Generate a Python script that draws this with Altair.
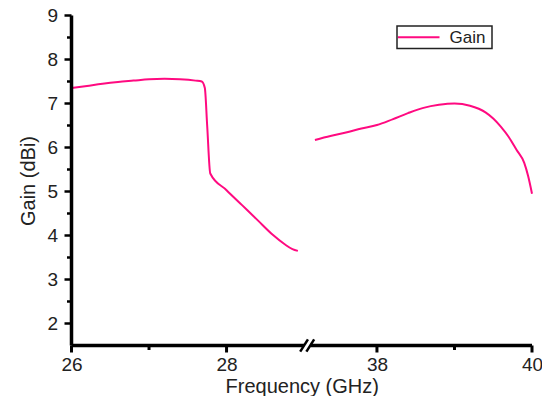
import altair as alt
import pandas as pd

# ---- data ----
SERIES = "Gain"
left_freq = [26.0, 26.2, 26.4, 26.6, 26.8, 27.0, 27.2, 27.4, 27.6, 27.68, 27.72, 27.75, 27.79,
             28.0, 28.2, 28.4, 28.6, 28.75, 28.85, 28.92]
left_gain = [7.35, 7.40, 7.45, 7.49, 7.52, 7.55, 7.56, 7.55, 7.52, 7.50, 7.35, 6.50, 5.41,
             5.03, 4.69, 4.35, 4.01, 3.80, 3.69, 3.65]
right_freq = [37.2, 37.4, 37.6, 37.8, 38.0, 38.2, 38.4, 38.6, 38.8, 39.0, 39.2, 39.4, 39.5,
              39.6, 39.7, 39.8, 39.9, 39.95, 40.0]
right_gain = [6.17, 6.26, 6.34, 6.43, 6.51, 6.64, 6.78, 6.90, 6.97, 7.00, 6.95, 6.80, 6.66,
              6.47, 6.24, 5.95, 5.65, 5.35, 4.95]

x_major = [26, 28, 38, 40]
x_minor = [27, 39]
y_major = [2, 3, 4, 5, 6, 7, 8, 9]
y_minor = [2.5, 3.5, 4.5, 5.5, 6.5, 7.5, 8.5]

# ---- broken axis mapping ----
SHIFT = 8.06          # right part (37.1-40 GHz) is shifted left onto the axis
X_MIN, X_MAX = 26.0, 40.0 - SHIFT
Y_MIN, Y_MAX = 1.5, 9.0
BREAK_L, BREAK_R = 29.0, 29.08
W, H = 460.5, 330

def xp(f):
    return f if f < 33 else round(f - SHIFT, 4)

PINK = "#FF0A80"
FONT = "Liberation Sans"
INK = "#000000"

df = pd.DataFrame({
    "freq": left_freq + right_freq,
    "gain": left_gain + right_gain,
    "seg": ["a"] * len(left_freq) + ["b"] * len(right_freq),
})
df["xp"] = [xp(f) for f in df["freq"]]

tick_xp = [xp(f) for f in x_major]
label_expr = " : ".join(
    f"abs(datum.value - {v}) < 0.01 ? '{f}'" for v, f in zip(tick_xp, x_major)
) + " : ''"

xscale = alt.Scale(domain=[X_MIN, X_MAX], nice=False, zero=False)
yscale = alt.Scale(domain=[Y_MIN, Y_MAX], nice=False, zero=False)

xaxis = alt.Axis(title="Frequency (GHz)", values=tick_xp, labelExpr=label_expr,
                 domain=False, ticks=False)
yaxis = alt.Axis(title="Gain (dBi)", values=y_major, domain=False, ticks=False)

line = alt.Chart(df).mark_line(color=PINK, strokeWidth=2, interpolate="monotone").encode(
    x=alt.X("xp:Q", scale=xscale, axis=xaxis),
    y=alt.Y("gain:Q", scale=yscale, axis=yaxis),
    detail="seg:N",
)

# bottom axis line with break
axis_df = pd.DataFrame({"x1": [X_MIN, BREAK_R], "x2": [BREAK_L, X_MAX], "y": [Y_MIN, Y_MIN]})
axis_line = alt.Chart(axis_df).mark_rule(color=INK, strokeWidth=3.5).encode(
    x=alt.X("x1:Q", scale=xscale), x2="x2:Q",
    y=alt.Y("y:Q", scale=yscale)
)
# left axis line
yaxis_df = pd.DataFrame({"y1": [Y_MIN], "y2": [Y_MAX]})
yaxis_line = alt.Chart(yaxis_df).mark_rule(color=INK, strokeWidth=3.5).encode(
    x=alt.value(0), y=alt.Y("y1:Q", scale=yscale), y2="y2:Q"
)
slash_df = pd.DataFrame({
    "x1": [BREAK_L - 0.05, BREAK_R - 0.05], "x2": [BREAK_L + 0.05, BREAK_R + 0.05],
    "y1": [Y_MIN - 0.14, Y_MIN - 0.14], "y2": [Y_MIN + 0.14, Y_MIN + 0.14],
})
slashes = alt.Chart(slash_df).mark_rule(color=INK, strokeWidth=2.5).encode(
    x=alt.X("x1:Q", scale=xscale), x2="x2:Q",
    y=alt.Y("y1:Q", scale=yscale), y2="y2:Q",
)

# ticks (outward)
ymaj = alt.Chart(pd.DataFrame({"v": y_major})).mark_rule(color=INK, strokeWidth=2.5).encode(
    y=alt.Y("v:Q", scale=yscale), x=alt.value(-7), x2=alt.value(0)
)
ymin = alt.Chart(pd.DataFrame({"v": y_minor})).mark_rule(color=INK, strokeWidth=2.5).encode(
    y=alt.Y("v:Q", scale=yscale), x=alt.value(-4.5), x2=alt.value(0)
)
xmaj = alt.Chart(pd.DataFrame({"v": tick_xp})).mark_rule(color=INK, strokeWidth=3).encode(
    x=alt.X("v:Q", scale=xscale), y=alt.value(H), y2=alt.value(H + 7)
)
xmin = alt.Chart(pd.DataFrame({"v": [xp(f) for f in x_minor]})).mark_rule(
    color=INK, strokeWidth=3).encode(
    x=alt.X("v:Q", scale=xscale), y=alt.value(H), y2=alt.value(H + 4.5)
)

# legend box
leg_df = pd.DataFrame({"series": [SERIES]})
leg_box = alt.Chart(leg_df).mark_rect(fill="white", stroke="#222", strokeWidth=1.5).encode(
    x=alt.value(325.5), x2=alt.value(420.5), y=alt.value(10.5), y2=alt.value(33)
)
leg_line = alt.Chart(leg_df).mark_rule(color=PINK, strokeWidth=2).encode(
    x=alt.value(326.5), x2=alt.value(368), y=alt.value(21.8)
)
leg_text = alt.Chart(leg_df).mark_text(align="left", baseline="middle", font=FONT,
                                        fontSize=17, color="#222").encode(
    x=alt.value(378), y=alt.value(22.5), text="series:N"
)

chart = alt.layer(line, axis_line, yaxis_line, slashes, ymaj, ymin, xmaj, xmin,
                  leg_box, leg_line, leg_text).properties(
    width=W, height=H,
    autosize=alt.AutoSizeParams(type="none"),
    padding={"left": 63.5, "top": 7.5, "right": 10, "bottom": 50},
).configure_view(stroke=None).configure_axis(
    grid=False, labelFlush=False, domain=False, ticks=False,
    labelFont=FONT, labelFontSize=19, labelColor="#222",
    titleFont=FONT, titleFontSize=20, titleFontWeight="normal", titleColor="#222",
).configure_axisX(
    labelPadding=10, titlePadding=2,
).configure_axisY(
    labelPadding=14, titlePadding=8,
)

chart.save("out.html", embed_options={"renderer": "svg", "actions": False})
